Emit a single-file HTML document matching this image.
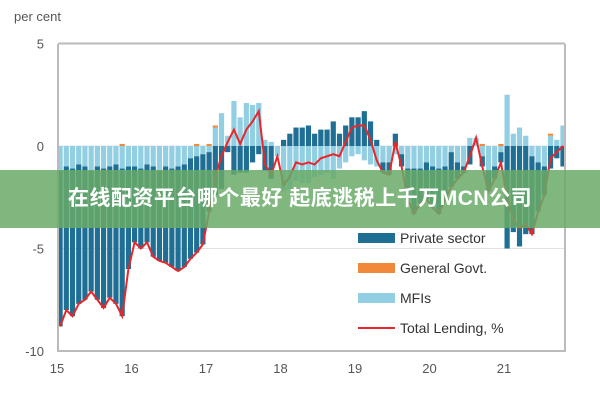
<!DOCTYPE html>
<html><head><meta charset="utf-8"><style>
body{margin:0;background:#fff;}
#wrap{position:relative;width:600px;height:400px;overflow:hidden;font-family:"Liberation Sans",sans-serif;}
#banner{position:absolute;left:0;top:170px;width:600px;height:58px;background:rgba(105,170,105,0.85);color:#fff;font:bold 21px "Liberation Sans","Noto Sans CJK SC",sans-serif;text-align:center;line-height:58px;letter-spacing:0.5px;}
</style></head><body>
<div id="wrap">
<svg id="svg" width="600" height="400"></svg>
<div id="banner">在线配资平台哪个最好 起底逃税上千万MCN公司</div>
</div>
<script>
const yTicks=[5,0,-5,-10];
const xLabels=['15','16','17','18','19','20','21'];
const privateSector=[-7.6,-7.0,-7.2,-6.8,-6.5,-5.9,-6.5,-6.8,-6.4,-6.8,-7.2,-5.0,
-3.7,-3.9,-3.8,-4.4,-4.4,-4.7,-4.8,-5.1,-5.0,-4.9,-4.7,-4.4,
-2.9,-2.4,-2.1,-0.3,-1.4,-1.3,-1.3,-0.8,-0.4,-1.2,-1.6,0.0,
0.3,0.6,0.9,0.9,1.0,0.6,0.8,0.8,1.2,0.6,1.0,1.4,
1.4,1.7,1.2,0.3,-0.5,-0.6,0.6,-0.6,-1.5,-2.2,-1.7,-1.8,
-2.0,-2.2,-1.6,-1.7,-0.8,-0.3,-0.9,0.0,-0.5,-1.0,-0.6,-0.5,
-5.0,-4.2,-4.9,-4.3,-3.8,-2.4,-1.4,-1.1,-0.6,-1.0];
const mfis=[-1.2,-1.0,-1.1,-0.9,-1.0,-1.2,-1.0,-1.1,-1.0,-0.9,-1.1,-1.0,
-1.0,-1.1,-0.9,-1.0,-1.2,-1.0,-1.1,-1.0,-0.9,-0.6,-0.5,-0.4,
-0.3,0.9,1.6,0.5,2.2,1.4,2.1,2.0,2.1,0.3,0.2,-0.5,
-2.2,-2.1,-1.7,-1.8,-1.8,-1.5,-1.4,-1.3,-1.6,-1.1,-0.8,-0.5,
-0.4,-0.7,-0.9,-1.0,-0.8,-0.8,-0.4,-0.4,-1.1,-1.1,-1.1,-0.8,
-1.0,-1.1,-1.0,-0.3,-0.8,-1.0,0.4,0.4,-0.5,-1.2,-1.0,-0.3,
2.5,0.6,0.9,0.5,-0.5,-0.8,-1.0,0.5,0.3,1.0];
const govt=[0,0,0,0,0,0,0,0,0,0,0.1,0,
0,0,0,0,0,0,0,0,0,0,0.1,0,
0.1,0.1,0,0,0,0,0,0,0,0,0,0,
0,0,0,0,0,0,0,0,0,0,0,0,
0,0,0,0,0,0,0,0,0,0,0,0,
0,0,0,0,0,0,0,0,0.1,0,0,0.1,
0,0,0,0,0,0,0,0.1,0,0];
const totalLending=[-8.8,-8.0,-8.3,-7.7,-7.5,-7.1,-7.5,-7.9,-7.4,-7.7,-8.3,-6.0,
-4.7,-5.0,-4.7,-5.4,-5.6,-5.7,-5.9,-6.1,-5.9,-5.5,-5.2,-4.8,
-3.2,-1.5,-0.5,0.2,0.8,0.1,0.8,1.2,1.7,-0.9,-1.4,-0.5,
-1.9,-1.5,-0.8,-0.9,-0.8,-0.9,-0.6,-0.5,-0.4,-0.5,0.2,0.9,
1.0,1.0,0.3,-0.7,-1.3,-1.4,0.2,-1.0,-2.6,-3.3,-2.8,-2.6,
-3.0,-3.3,-2.6,-2.0,-1.6,-1.3,-0.5,0.4,-1.0,-2.2,-1.6,-0.8,
-2.5,-3.6,-4.0,-3.8,-4.3,-3.2,-2.4,-0.6,-0.3,0.0];

const svg=document.getElementById('svg');
const NS='http://www.w3.org/2000/svg';
const X0=57,PX_YEAR=74.5,PL=58,PR=565;
const yS=v=>146-v*20.5;
const xYear=i=>X0+i*PX_YEAR;
const xM=i=>X0+(i+0.5)*PX_YEAR/12;
function mk(tag,attrs){const e=document.createElementNS(NS,tag);for(const k in attrs)e.setAttribute(k,attrs[k]);svg.appendChild(e);return e;}

let t=mk('text',{x:14,y:21,'font-size':13,fill:'#555'});t.textContent='per cent';


yTicks.forEach(v=>{
  const g=mk('line',{x1:PL,x2:PR,y1:yS(v),y2:yS(v),stroke:v===5||v===-10?'#bbb':'#e2e2e2','stroke-width':v===5||v===-10?2:1});
  
  
  const l=mk('text',{x:44,y:yS(v)+5,'font-size':13,fill:'#555','text-anchor':'end'});l.textContent=v;
  
  
});
xLabels.forEach((s,i)=>{
  const l=mk('text',{x:xYear(i),y:373,'font-size':13,fill:'#555','text-anchor':'middle'});l.textContent=s;
  
  
});
const bw=5.2;
privateSector.forEach((p,i)=>{
  let pos=0,neg=0;
  [[mfis[i],'#92cfe3','bar-mfi'],[govt[i],'#f08a3a','bar-govt'],[p,'#1f6f94','bar-private']].forEach(([v,c,n])=>{
    let y,h;
    if(v>=0){y=yS(pos+v);h=yS(pos)-y;pos+=v;}else{y=yS(neg);h=yS(neg+v)-y;neg+=v;}
    const r=mk('rect',{x:xM(i)-bw/2,y:y,width:bw,height:Math.max(h,0),fill:c});
    
    
  });
});
const pl=mk('polyline',{points:totalLending.map((v,i)=>xM(i)+','+yS(v)).join(' '),fill:'none',stroke:'#e8262b','stroke-width':2});


[[PL,44,PL,352],[PR,44,PR,352]].forEach(a=>{const l=mk('line',{x1:a[0],y1:a[1],x2:a[2],y2:a[3],stroke:'#bbb','stroke-width':2});

});
const legend=[['Private sector','#1f6f94','rect'],['General Govt.','#f08a3a','rect'],['MFIs','#92cfe3','rect'],['Total Lending, %','#e8262b','line']];
legend.forEach((e,i)=>{
  const y=238+i*30;
  let s;
  if(e[2]==='rect')s=mk('rect',{x:358,y:y-5,width:37,height:10,fill:e[1]});
  else s=mk('line',{x1:358,x2:395,y1:y,y2:y,stroke:e[1],'stroke-width':2});
  
  
  const l=mk('text',{x:400,y:y+5,'font-size':14,fill:'#333'});l.textContent=e[0];
  
  
});
</script>
</body></html>
